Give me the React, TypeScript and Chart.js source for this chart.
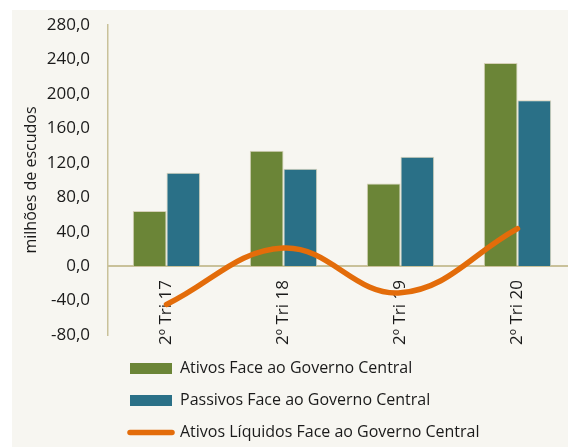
import React, { useEffect, useRef } from "react";
import { Chart, registerables } from "chart.js";

Chart.register(...registerables);

const categories = ["2º Tri 17", "2º Tri 18", "2º Tri 19", "2º Tri 20"];
const ativos = [64, 134, 96, 236];
const passivos = [108.5, 113, 127, 192.5];
const liquidos = [-44.5, 21, -31, 43.5];
const seriesNames = [
  "Ativos Face ao Governo Central",
  "Passivos Face ao Governo Central",
  "Ativos Líquidos Face ao Governo Central",
];

const GREEN = "#6B8537";
const BLUE = "#2A7087";
const ORANGE = "#E36C0A";
const TAN = "#C9C19A";
const BG = "#F7F6F1";
const FONT = "'Open Sans', sans-serif";

export default function App() {
  const ref = useRef<HTMLCanvasElement | null>(null);

  useEffect(() => {
    if (!ref.current) return;
    const legendMover = {
      id: "legendMover",
      afterLayout(chart: any) {
        const lg = chart.legend;
        if (!lg) return;
        const w = lg.width;
        const h = lg.height;
        lg.left = 102;
        lg.right = lg.left + w;
        lg.top = 334.5;
        lg.bottom = lg.top + h;
      },
    };
    const chart = new Chart(ref.current, {
      type: "bar",
      data: {
        labels: categories,
        datasets: [
          {
            label: seriesNames[0],
            data: ativos,
            backgroundColor: GREEN,
            borderColor: "#D6D1B8",
            borderWidth: 1,
            order: 1,
            categoryPercentage: 0.576,
            barPercentage: 1,
          } as any,
          {
            label: seriesNames[1],
            data: passivos,
            backgroundColor: BLUE,
            borderColor: "#D6D1B8",
            borderWidth: 1,
            order: 1,
            categoryPercentage: 0.576,
            barPercentage: 1,
          },
          {
            type: "line",
            label: seriesNames[2],
            data: liquidos,
            borderColor: ORANGE,
            backgroundColor: ORANGE,
            borderWidth: 5.5,
            borderCapStyle: "round",
            tension: 0.4,
            pointRadius: 0,
            order: 0,
          },
        ],
      },
      options: {
        responsive: false,
        animation: false,
        layout: { padding: { top: 15, bottom: 6, left: 0, right: 0 } },
        plugins: {
          tooltip: { enabled: false },
          legend: {
            position: "bottom",
            align: "start",
            fullSize: false,
            labels: {
              usePointStyle: true,
              pointStyleWidth: 42,
              boxHeight: 11,
              padding: 16,
              color: "#1a1a1a",
              font: { family: FONT, size: 16 },
              sort: (a: any, b: any) => a.datasetIndex - b.datasetIndex,
              generateLabels: (ch: any) =>
                ch.data.datasets.map((ds: any, i: number) => ({
                  text: ds.label,
                  datasetIndex: i,
                  fillStyle: ds.type === "line" ? ORANGE : ds.backgroundColor,
                  strokeStyle: ds.type === "line" ? ORANGE : ds.backgroundColor,
                  lineWidth: ds.type === "line" ? 5.5 : 0,
                  lineCap: "round",
                  pointStyle: ds.type === "line" ? "line" : "rect",
                  hidden: false,
                  fontColor: "#1a1a1a",
                })),
            },
          },
        },
        scales: {
          x: {
            position: { y: 0 } as any,
            grid: { display: false, drawTicks: false },
            border: { display: true, color: TAN, width: 2 },
            ticks: {
              autoSkip: false,
              minRotation: 90,
              maxRotation: 90,
              padding: 14,
              color: "#1a1a1a",
              font: { family: FONT, size: 17 },
            },
          },
          y: {
            min: -80,
            max: 280,
            grid: { display: false, drawTicks: true, tickLength: 18 },
            border: { display: true, color: TAN, width: 1.5 },
            afterFit: (scale: any) => {
              scale.width = 96;
            },
            ticks: {
              stepSize: 40,
              padding: 0,
              color: "#1a1a1a",
              font: { family: FONT, size: 17 },
              callback: (v: any) => Number(v).toFixed(1).replace(".", ","),
            },
            title: {
              display: true,
              text: "milhões de escudos",
              color: "#1a1a1a",
              font: { family: FONT, size: 16 },
              padding: { top: 10, bottom: 0 },
            },
          },
        },
      },
      plugins: [legendMover],
    });
    return () => chart.destroy();
  }, []);

  return (
    <div style={{ marginLeft: 4, marginTop: 2, width: 564, height: 437, background: BG }}>
      <canvas ref={ref} width={564} height={437} style={{ display: "block" }} />
    </div>
  );
}
